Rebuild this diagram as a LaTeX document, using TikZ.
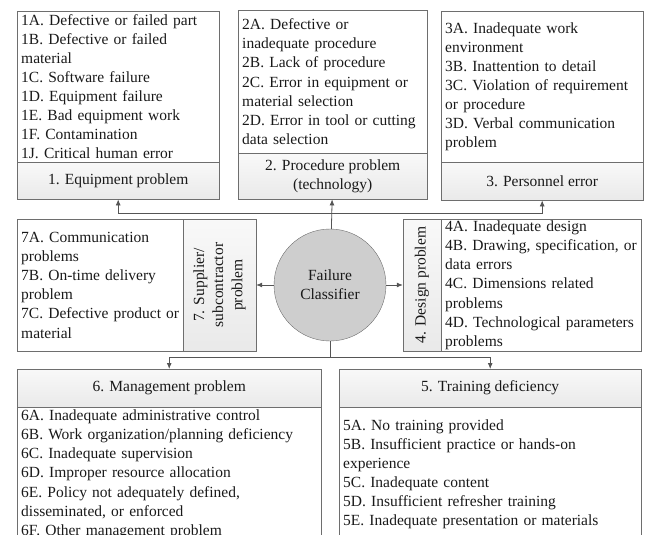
\documentclass[tikz,border=0pt]{standalone}
\usepackage{fontspec}
\setmainfont{Liberation Serif}
\usetikzlibrary{arrows.meta}
\definecolor{edge}{RGB}{110,110,110}
\definecolor{arrowc}{RGB}{85,85,85}
\definecolor{ink}{RGB}{25,25,25}
\definecolor{circfill}{RGB}{206,206,206}
\tikzset{
  txt/.style={font=\fontsize{15.5pt}{19.1pt}\selectfont, text=ink},
  listbox/.style={txt, draw=edge, rectangle, anchor=north west, align=left, inner xsep=4pt, inner ysep=0pt},
  headbox/.style={txt, draw=edge, rectangle, align=center, inner sep=0pt, top color=gray!5, bottom color=gray!17},
}
\newcommand{\drawlist}{\node[listbox]}
\newcommand{\drawhead}{\node[headbox, anchor=north west]}
\newcommand{\drawside}{\node[headbox, rotate=90]}
\newcommand{\drawcirc}{\node[txt, draw=edge, fill=circfill, circle, minimum size=112pt, align=center]}
\newcommand{\drawdummy}{\node[minimum size=0,inner sep=0]}
\newcommand{\arrgray}{\draw[thick, color=arrowc, ->]}
\newcommand{\midlinegray}{\draw[thick, color=arrowc, -]}

\begin{document}
\begin{tikzpicture}[x=1pt, y=-1pt, >={Latex[length=6pt,width=5pt]}]
\useasboundingbox (0,0) rectangle (645,535);
\clip (0,0) rectangle (645,535);
%top row
\drawlist (b1) at (17,11) [minimum width=202pt, minimum height=151pt, text width=194pt]
  {1A. Defective or failed part\\1B. Defective or failed\\material\\1C. Software failure\\1D. Equipment failure\\1E. Bad equipment work\\1F. Contamination\\1J. Critical human error};
\drawhead (h1) at (17,162) [minimum width=202pt, minimum height=37pt] {1. Equipment problem};

\drawlist (b2) at (238,10) [minimum width=189pt, minimum height=143pt, text width=181pt]
  {2A. Defective or\\inadequate procedure\\2B. Lack of procedure\\2C. Error in equipment or\\material selection\\2D. Error in tool or cutting\\data selection};
\drawhead (h2) at (238,153) [minimum width=189pt, minimum height=46pt] {2. Procedure problem\\(technology)};

\drawlist (b3) at (441,11) [minimum width=202pt, minimum height=151pt, text width=194pt]
  {3A. Inadequate work\\environment\\3B. Inattention to detail\\3C. Violation of requirement\\or procedure\\3D. Verbal communication\\problem};
\drawhead (h3) at (441,162) [minimum width=202pt, minimum height=38pt] {3. Personnel error};

%middle row
\drawcirc (fc) at (330,285) {Failure\\Classifier};

\drawlist (b7) at (17,219) [minimum width=166pt, minimum height=132pt, text width=158pt]
  {7A. Communication\\problems\\7B. On-time delivery\\problem\\7C. Defective product or\\material};
\drawside (h7) at (219.5,285) [minimum width=132pt, minimum height=73pt] {7. Supplier/\\subcontractor\\problem};

\drawside (h4) at (422,285) [minimum width=132pt, minimum height=38pt] {4. Design problem};
\drawlist (b4) at (441,219) [minimum width=200pt, minimum height=132pt, text width=192pt]
  {4A. Inadequate design\\4B. Drawing, specification, or\\data errors\\4C. Dimensions related\\problems\\4D. Technological parameters\\problems};

%bottom row
\drawhead (h6) at (17,369) [minimum width=304pt, minimum height=38pt] {6. Management problem};
\drawlist (b6) at (17,407) [minimum width=304pt, minimum height=134pt, text width=296pt]
  {6A. Inadequate administrative control\\6B. Work organization/planning deficiency\\6C. Inadequate supervision\\6D. Improper resource allocation\\6E. Policy not adequately defined,\\disseminated, or enforced\\6F. Other management problem};

\drawhead (h5) at (339,369) [minimum width=302pt, minimum height=38pt] {5. Training deficiency};
\drawlist (b5) at (339,407) [minimum width=302pt, minimum height=134pt, text width=294pt]
  {5A. No training provided\\5B. Insufficient practice or hands-on\\experience\\5C. Inadequate content\\5D. Insufficient refresher training\\5E. Inadequate presentation or materials};

\drawdummy (topMid) at (330,213) {};
\drawdummy (botMid) at (330,357) {};

\arrgray (fc) to (h2);
\arrgray (topMid) -| (h1);
\arrgray (topMid) -| (h3);
\arrgray (fc) to (h7);
\arrgray (fc) to (h4);
\midlinegray (fc) to (botMid);
\arrgray (botMid) -| (h6);
\arrgray (botMid) -| (h5);
\end{tikzpicture}
\end{document}
